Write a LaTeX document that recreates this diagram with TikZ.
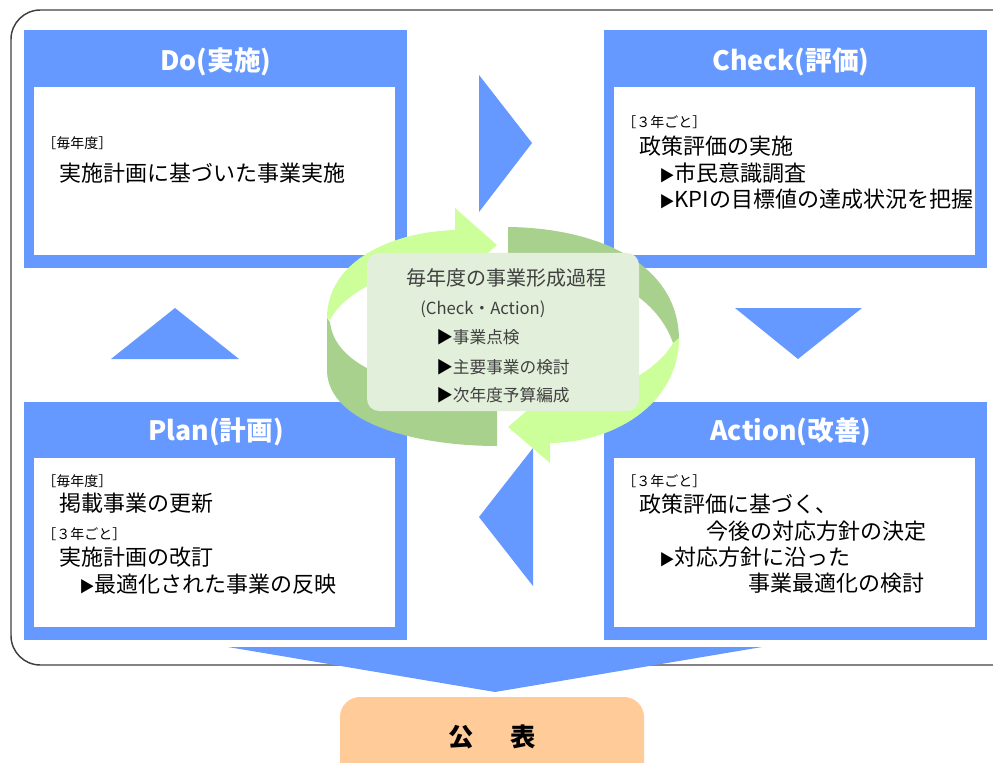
\documentclass[tikz,border=0pt]{standalone}
\usepackage{fontspec}
\setmainfont{Noto Sans CJK JP}
\definecolor{pdcablue}{HTML}{6699FF}
\definecolor{ringlight}{HTML}{CCFF99}
\definecolor{ringdark}{HTML}{A9D18E}
\definecolor{cyclebg}{HTML}{E2EFDA}
\definecolor{pubbg}{HTML}{FFCC99}
\definecolor{framegray}{HTML}{404040}
\newcommand{\boxtri}{{\fontsize{11.5}{11.5}\selectfont ▶}}
\begin{document}
\begin{tikzpicture}[x=0.75pt,y=-0.75pt,
  headtext/.style={text=white,font=\fontsize{20}{20}\selectfont\bfseries,inner sep=0},
  bodytext/.style={anchor=west,font=\fontsize{16.5}{16.5}\selectfont,inner sep=0},
  tagtext/.style={anchor=west,font=\fontsize{10.5}{10.5}\selectfont,inner sep=0},
  cyctext/.style={anchor=west,text=black!75,font=\fontsize{12.5}{12.5}\selectfont,inner sep=0}]
      \clip (0,0) rectangle (993,763);
      \draw[framegray,line width=1.1pt,rounded corners=22pt] (11,10) rectangle (1030,665);
      \fill[pdcablue] (24,30) rectangle (407,268);
      \fill[white] (34,87) rectangle (395,255);
      \fill[pdcablue] (604,30) rectangle (987,268);
      \fill[white] (614,87) rectangle (975,255);
      \fill[pdcablue] (24,402) rectangle (407,640);
      \fill[white] (34,458) rectangle (395,627);
      \fill[pdcablue] (604,402) rectangle (987,640);
      \fill[white] (614,458) rectangle (975,627);
      \node[headtext] (dohead) at (216,62) {Do(実施)};
      \node[headtext] (checkhead) at (791,62) {Check(評価)};
      \node[headtext] (planhead) at (216,432) {Plan(計画)};
      \node[headtext] (acthead) at (791,432) {Action(改善)};
      \node[tagtext] (do1) at (42,143) {［毎年度］};
      \node[bodytext] (do2) at (59,173) {実施計画に基づいた事業実施};
      \node[tagtext] (chk1) at (622,122) {［３年ごと］};
      \node[bodytext] (chk2) at (639,146) {政策評価の実施};
      \node[bodytext] (chk3) at (659,173) {\boxtri 市民意識調査};
      \node[bodytext] (chk4) at (659,199) {\boxtri KPIの目標値の達成状況を把握};
      \node[tagtext] (pln1) at (42,481) {［毎年度］};
      \node[bodytext] (pln2) at (59,503) {掲載事業の更新};
      \node[tagtext] (pln3) at (42,534) {［３年ごと］};
      \node[bodytext] (pln4) at (59,557) {実施計画の改訂};
      \node[bodytext] (pln5) at (79,584) {\boxtri 最適化された事業の反映};
      \node[tagtext] (act1) at (622,481) {［３年ごと］};
      \node[bodytext] (act2) at (639,504) {政策評価に基づく、};
      \node[bodytext] (act3) at (706,531) {今後の対応方針の決定};
      \node[bodytext] (act4) at (659,557) {\boxtri 対応方針に沿った};
      \node[bodytext] (act5) at (748,583) {事業最適化の検討};
      \fill[pdcablue] (479,75) -- (532,143) -- (479,212) -- cycle;
      \fill[pdcablue] (735,308) -- (862,308) -- (798,359) -- cycle;
      \fill[pdcablue] (533,448) -- (479,517) -- (533,586) -- cycle;
      \fill[pdcablue] (111,359) -- (239,359) -- (175,308) -- cycle;
      % cycle ring
      \fill[ringlight] (327,318) .. controls (327,262) and (390,232) .. (455,230) -- (455,208) -- (497,245) -- (455,282) -- (455,262) .. controls (400,265) and (345,290) .. (330,320) -- cycle;
      \fill[ringdark] (508,227) .. controls (600,228) and (679,265) .. (679,340) -- (673,343) .. controls (660,305) and (620,275) .. (560,268) -- (508,268) -- cycle;
      \fill[ringdark] (327,318) -- (327,372) .. controls (330,425) and (420,446) .. (497,446) -- (497,395) .. controls (410,392) and (335,370) .. (330,322) -- cycle;
      \fill[ringlight] (679,338) .. controls (679,400) and (620,442) .. (550,443) -- (550,463) -- (508,427) -- (550,391) -- (550,405) .. controls (600,400) and (655,375) .. (673,343) -- cycle;
      \node[fill=cyclebg,rounded corners=9pt,minimum width=204pt,minimum height=118.5pt,inner sep=0] (cyclebox) at (503,332) {};
      \node[text=black!75,font=\fontsize{15}{15}\selectfont,inner sep=0] (cyctitle) at (506,278) {毎年度の事業形成過程};
      \node[cyctext] (cycsub) at (420,309) {(Check・Action)};
      \node[cyctext] (cyc1) at (436,337) {\textcolor{black}{▶}事業点検};
      \node[cyctext] (cyc2) at (436,367) {\textcolor{black}{▶}主要事業の検討};
      \node[cyctext] (cyc3) at (436,395) {\textcolor{black}{▶}次年度予算編成};
      \fill[pdcablue] (228,647) -- (762,647) -- (495,692) -- cycle;
      \fill[pubbg,rounded corners=15pt] (340,697) rectangle (644,790);
      \node[font=\fontsize{19}{19}\selectfont\bfseries,inner sep=0] (pub) at (492,737) {公\hspace{27pt}表};
    \end{tikzpicture}
\end{document}
